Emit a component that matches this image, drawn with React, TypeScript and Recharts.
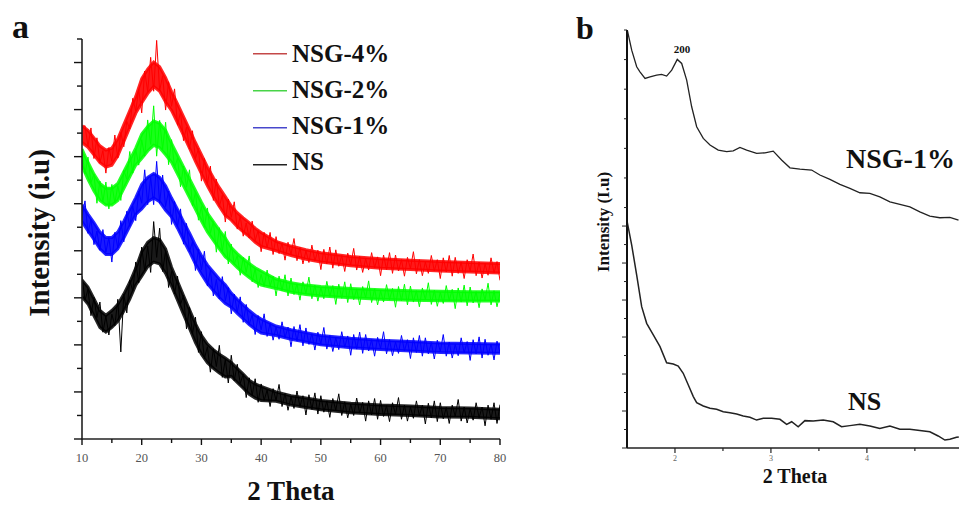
import React from "react";
import { Area, ComposedChart, Line, LineChart, XAxis, YAxis } from "recharts";

const SERIF = '"Liberation Serif", "Times New Roman", Times, serif';

// panel a: scan grid 10..80 deg, 0.5 deg step
const thetaA = Array.from({ length: 141 }, (_, i) => 10 + i * 0.5);

const nsA = [
    3.46, 2.95, 3.18, 2.62, 3.01, 2.58, 2.91, 2.27, 2.61, 2.21,
    2.65, 2.41, 2.97, 1.85, 3.08, 2.68, 3.38, 3.14, 3.76, 3.32,
    4.08, 3.57, 4.10, 3.54, 4.62, 3.86, 4.48, 3.56, 4.00, 3.22,
    3.56, 3.08, 3.46, 2.86, 3.05, 2.34, 2.80, 2.23, 2.59, 1.84,
    2.28, 1.71, 1.96, 1.42, 1.92, 1.54, 1.99, 1.31, 1.69, 1.19,
    1.78, 1.24, 1.59, 1.18, 1.38, 0.88, 1.30, 0.93, 1.28, 0.78,
    1.17, 0.82, 1.04, 0.69, 1.07, 0.82, 1.16, 0.69, 0.97, 0.61,
    0.90, 0.65, 1.02, 0.69, 0.92, 0.51, 0.94, 0.63, 0.98, 0.53,
    0.92, 0.57, 0.81, 0.46, 0.86, 0.61, 0.96, 0.50, 0.79, 0.45,
    0.74, 0.50, 0.87, 0.55, 0.78, 0.38, 0.81, 0.51, 0.86, 0.42,
    0.82, 0.48, 0.71, 0.37, 0.77, 0.52, 0.88, 0.42, 0.72, 0.38,
    0.68, 0.44, 0.81, 0.49, 0.72, 0.32, 0.76, 0.45, 0.81, 0.37,
    0.77, 0.43, 0.67, 0.33, 0.72, 0.48, 0.84, 0.38, 0.68, 0.34,
    0.64, 0.40, 0.77, 0.45, 0.68, 0.28, 0.72, 0.42, 0.77, 0.33,
    0.73,
];

const nsg1A = [
    4.70, 5.06, 4.37, 4.67, 4.13, 4.42, 4.01, 4.45, 3.97, 4.28,
    3.76, 4.39, 4.06, 4.64, 4.19, 4.84, 4.52, 4.95, 4.64, 5.26,
    5.01, 5.72, 4.98, 5.56, 4.98, 5.90, 5.01, 5.61, 4.94, 5.27,
    4.56, 5.05, 4.51, 4.89, 4.14, 4.58, 3.98, 4.19, 3.58, 4.03,
    3.59, 3.99, 3.25, 3.59, 3.04, 3.39, 2.98, 3.45, 2.94, 3.22,
    2.66, 3.08, 2.69, 3.02, 2.48, 2.86, 2.43, 2.64, 2.22, 2.62,
    2.32, 2.66, 2.18, 2.46, 2.10, 2.38, 2.12, 2.49, 2.15, 2.38,
    1.96, 2.39, 2.08, 2.43, 1.98, 2.36, 2.01, 2.24, 1.89, 2.27,
    2.02, 2.37, 1.91, 2.20, 1.86, 2.15, 1.90, 2.28, 1.95, 2.19,
    1.78, 2.22, 1.91, 2.27, 1.82, 2.22, 1.87, 2.11, 1.76, 2.16,
    1.92, 2.28, 1.81, 2.11, 1.77, 2.06, 1.82, 2.20, 1.87, 2.11,
    1.71, 2.15, 1.84, 2.20, 1.76, 2.15, 1.81, 2.05, 1.70, 2.10,
    1.86, 2.22, 1.76, 2.06, 1.72, 2.01, 1.77, 2.15, 1.83, 2.07,
    1.67, 2.11, 1.81, 2.17, 1.72, 2.12, 1.78, 2.02, 1.68, 2.08,
    1.84,
];

const nsg2A = [
    6.08, 5.63, 5.99, 5.45, 5.63, 5.01, 5.48, 5.04, 5.46, 4.89,
    5.41, 5.02, 5.38, 5.07, 5.71, 5.52, 6.11, 5.65, 6.16, 5.82,
    6.36, 6.01, 6.78, 6.26, 7.08, 6.01, 6.77, 6.16, 6.73, 5.83,
    6.36, 5.76, 5.97, 5.36, 5.80, 5.35, 5.72, 4.95, 5.25, 4.65,
    4.94, 4.50, 4.91, 4.37, 4.62, 3.97, 4.49, 3.99, 4.41, 3.72,
    4.14, 3.71, 3.90, 3.48, 3.86, 3.54, 3.89, 3.34, 3.62, 3.22,
    3.50, 3.24, 3.59, 3.25, 3.46, 3.04, 3.46, 3.15, 3.49, 3.04,
    3.42, 3.07, 3.30, 2.95, 3.34, 3.09, 3.44, 2.98, 3.27, 2.93,
    3.22, 2.98, 3.35, 3.03, 3.26, 2.86, 3.29, 2.99, 3.34, 2.90,
    3.30, 2.96, 3.19, 2.85, 3.24, 3.00, 3.36, 2.90, 3.19, 2.85,
    3.15, 2.91, 3.28, 2.96, 3.20, 2.80, 3.24, 2.94, 3.29, 2.85,
    3.25, 2.91, 3.15, 2.81, 3.21, 2.96, 3.32, 2.86, 3.16, 2.82,
    3.12, 2.88, 3.26, 2.94, 3.18, 2.77, 3.21, 2.91, 3.27, 2.83,
    3.23, 2.89, 3.13, 2.79, 3.19, 2.95, 3.31, 2.85, 3.15, 2.81,
    3.11,
];

const nsg4A = [
    6.60, 6.66, 6.22, 6.61, 5.96, 6.40, 5.87, 6.13, 5.65, 6.19,
    5.90, 6.46, 5.97, 6.51, 6.21, 6.75, 6.59, 7.24, 6.97, 7.43,
    6.93, 7.82, 7.38, 8.11, 7.39, 8.47, 7.40, 7.72, 6.99, 7.59,
    7.07, 7.44, 6.67, 6.95, 6.34, 6.63, 6.16, 6.55, 5.96, 6.17,
    5.48, 5.96, 5.41, 5.80, 5.07, 5.52, 4.94, 5.18, 4.61, 5.10,
    4.71, 5.04, 4.46, 4.73, 4.31, 4.59, 4.27, 4.63, 4.22, 4.43,
    3.98, 4.39, 4.06, 4.39, 3.92, 4.30, 3.94, 4.16, 3.80, 4.18,
    3.92, 4.26, 3.79, 4.07, 3.72, 4.00, 3.75, 4.12, 3.78, 4.01,
    3.60, 4.03, 3.72, 4.08, 3.63, 4.02, 3.67, 3.90, 3.56, 3.95,
    3.70, 4.05, 3.59, 3.88, 3.54, 3.83, 3.59, 3.96, 3.64, 3.87,
    3.47, 3.91, 3.60, 3.96, 3.52, 3.91, 3.57, 3.81, 3.46, 3.86,
    3.62, 3.98, 3.51, 3.81, 3.47, 3.76, 3.52, 3.90, 3.57, 3.81,
    3.41, 3.85, 3.55, 3.90, 3.46, 3.86, 3.52, 3.76, 3.41, 3.81,
    3.57, 3.93, 3.47, 3.76, 3.42, 3.72, 3.48, 3.85, 3.53, 3.77,
    3.37,
];

// dense core of each noisy trace (low / high edge), read on a coarser grid
const thetaBand = [
    10, 11, 12, 13, 14, 15, 16, 17, 18, 19,
    20, 21, 22, 23, 24,
    25, 26, 27, 28, 29, 30, 31, 32, 33, 34,
    35, 36, 37, 38, 39, 40,
    42.5, 45, 47.5, 50, 55, 60, 65, 70, 75, 80,
];
const nsLo = [
    3.02, 2.87, 2.62, 2.37, 2.27, 2.37, 2.50, 2.72, 2.97, 3.27,
    3.46, 3.66, 3.76, 3.72, 3.52,
    3.25, 2.95, 2.65, 2.35, 2.05, 1.80, 1.62, 1.50, 1.40, 1.32,
    1.33, 1.20, 1.08, 0.95, 0.87, 0.82,
    0.80, 0.72, 0.67, 0.62, 0.56, 0.52, 0.50, 0.47, 0.46, 0.43,
];
const nsHi = [
    3.38, 3.23, 2.98, 2.73, 2.63, 2.73, 2.86, 3.08, 3.33, 3.63,
    3.98, 4.18, 4.28, 4.24, 4.04,
    3.65, 3.35, 3.05, 2.75, 2.45, 2.20, 2.02, 1.90, 1.80, 1.72,
    1.63, 1.50, 1.38, 1.25, 1.17, 1.12,
    1.00, 0.92, 0.87, 0.82, 0.76, 0.72, 0.70, 0.67, 0.66, 0.63,
];
const nsg1Lo = [
    4.62, 4.42, 4.24, 4.04, 3.92, 3.92, 4.04, 4.27, 4.52, 4.77,
    4.89, 5.04, 5.12, 5.04, 4.86,
    4.72, 4.48, 4.22, 3.98, 3.72, 3.50, 3.30, 3.15, 3.00, 2.88,
    2.80, 2.67, 2.55, 2.43, 2.33, 2.25,
    2.20, 2.12, 2.06, 2.00, 1.94, 1.90, 1.87, 1.84, 1.83, 1.82,
];
const nsg1Hi = [
    4.98, 4.78, 4.60, 4.40, 4.28, 4.28, 4.40, 4.63, 4.88, 5.13,
    5.41, 5.56, 5.64, 5.56, 5.38,
    5.12, 4.88, 4.62, 4.38, 4.12, 3.90, 3.70, 3.55, 3.40, 3.28,
    3.10, 2.97, 2.85, 2.73, 2.63, 2.55,
    2.40, 2.32, 2.26, 2.20, 2.14, 2.10, 2.07, 2.04, 2.03, 2.02,
];
const nsg2Lo = [
    5.80, 5.52, 5.27, 5.07, 4.97, 4.97, 5.07, 5.32, 5.57, 5.82,
    5.96, 6.12, 6.24, 6.19, 6.04,
    5.88, 5.63, 5.38, 5.13, 4.88, 4.63, 4.40, 4.22, 4.04, 3.87,
    3.77, 3.64, 3.53, 3.43, 3.34, 3.27,
    3.20, 3.12, 3.07, 3.04, 3.00, 2.97, 2.95, 2.94, 2.93, 2.93,
];
const nsg2Hi = [
    6.16, 5.88, 5.63, 5.43, 5.33, 5.33, 5.43, 5.68, 5.93, 6.18,
    6.48, 6.64, 6.76, 6.71, 6.56,
    6.28, 6.03, 5.78, 5.53, 5.28, 5.03, 4.80, 4.62, 4.44, 4.27,
    4.07, 3.94, 3.83, 3.73, 3.64, 3.57,
    3.40, 3.32, 3.27, 3.24, 3.20, 3.17, 3.15, 3.14, 3.13, 3.13,
];
const nsg4Lo = [
    6.30, 6.20, 6.04, 5.87, 5.78, 5.82, 6.02, 6.32, 6.62, 6.92,
    7.14, 7.34, 7.49, 7.39, 7.16,
    6.98, 6.72, 6.45, 6.18, 5.90, 5.64, 5.38, 5.15, 4.94, 4.75,
    4.65, 4.51, 4.40, 4.30, 4.18, 4.09,
    4.00, 3.90, 3.82, 3.76, 3.68, 3.63, 3.60, 3.57, 3.55, 3.53,
];
const nsg4Hi = [
    6.66, 6.56, 6.40, 6.23, 6.14, 6.18, 6.38, 6.68, 6.98, 7.28,
    7.66, 7.86, 8.01, 7.91, 7.68,
    7.38, 7.12, 6.85, 6.58, 6.30, 6.04, 5.78, 5.55, 5.34, 5.15,
    4.95, 4.81, 4.70, 4.60, 4.48, 4.39,
    4.20, 4.10, 4.02, 3.96, 3.88, 3.83, 3.80, 3.77, 3.75, 3.73,
];

const xTicksA = [10, 15, 20, 25, 30, 35, 40, 45, 50, 55, 60, 65, 70, 75, 80];
const yTicksA = [0, 0.5, 1, 1.5, 2, 2.5, 3, 3.5, 4, 4.5, 5, 5.5, 6, 6.5, 7, 7.5, 8, 8.5];

const legendNames = ["NSG-4%", "NSG-2%", "NSG-1%", "NS"];
const legendColors = ["#c44848", "#48d448", "#4848cc", "#222222"];

// panel b: low angle scans
const thetaNsg1B = [
    1.505, 1.549, 1.601, 1.635, 1.688, 1.740, 1.809, 1.861, 1.913, 1.966,
    2.024, 2.070, 2.122, 2.174, 2.226, 2.295, 2.365, 2.451, 2.539, 2.607,
    2.677, 2.747, 2.851, 2.938, 3.024, 3.111, 3.198, 3.302, 3.424, 3.510,
    3.615, 3.719, 3.823, 3.927, 4.031, 4.135, 4.240, 4.344, 4.448, 4.552,
    4.656, 4.760, 4.865, 4.955,
];
const nsg1B = [
    22.55, 21.51, 20.61, 20.34, 19.98, 20.07, 20.16, 20.20, 20.11, 20.43,
    21.01, 20.79, 19.89, 18.45, 17.37, 16.74, 16.38, 16.11, 16.02, 16.07,
    16.25, 16.11, 15.93, 15.96, 16.05, 15.57, 15.15, 15.08, 15.03, 14.76,
    14.52, 14.25, 14.04, 13.80, 13.77, 13.58, 13.31, 13.17, 13.04, 12.77,
    12.54, 12.45, 12.47, 12.32,
];

const thetaNsB = [
    1.503, 1.549, 1.601, 1.653, 1.705, 1.774, 1.844, 1.913, 1.982, 2.034,
    2.086, 2.139, 2.191, 2.226, 2.295, 2.365, 2.434, 2.503, 2.573, 2.643,
    2.711, 2.781, 2.851, 2.920, 3.007, 3.094, 3.164, 3.216, 3.284, 3.354,
    3.441, 3.545, 3.649, 3.736, 3.823, 3.927, 4.031, 4.135, 4.240, 4.344,
    4.448, 4.552, 4.656, 4.743, 4.813, 4.865, 4.934, 4.958,
];
const nsB = [
    12.20, 10.97, 9.35, 7.64, 6.74, 6.11, 5.48, 4.61, 4.54, 4.43,
    4.04, 3.41, 2.78, 2.45, 2.27, 2.15, 2.09, 1.96, 1.91, 1.84,
    1.73, 1.66, 1.51, 1.61, 1.61, 1.55, 1.28, 1.42, 1.15, 1.48,
    1.46, 1.51, 1.42, 1.15, 1.21, 1.28, 1.19, 1.06, 1.19, 1.01,
    1.01, 0.94, 0.88, 0.65, 0.43, 0.47, 0.58, 0.60,
];

const xTicksB = [2, 2.5, 3, 3.5, 4, 4.5];
const yTicksB = [0, 1, 2, 3, 4, 5, 6, 7, 8, 9, 10, 11, 12, 13, 14.6, 16.2, 17.8, 19.4, 21, 22.6];

const dataA = thetaA.map((theta, i) => ({
    theta,
    ns: nsA[i],
    nsg1: nsg1A[i],
    nsg2: nsg2A[i],
    nsg4: nsg4A[i],
}));
const bandA = thetaBand.map((theta, i) => ({
    theta,
    ns: [nsLo[i], nsHi[i]],
    nsg1: [nsg1Lo[i], nsg1Hi[i]],
    nsg2: [nsg2Lo[i], nsg2Hi[i]],
    nsg4: [nsg4Lo[i], nsg4Hi[i]],
}));
const dataNsg1B = thetaNsg1B.map((theta, i) => ({ theta, y: nsg1B[i] }));
const dataNsB = thetaNsB.map((theta, i) => ({ theta, y: nsB[i] }));

const seriesA = [
    { key: "ns", color: "#000000" },
    { key: "nsg1", color: "#0000ff" },
    { key: "nsg2", color: "#00ff00" },
    { key: "nsg4", color: "#ff0000" },
];

const renderXTickA = ({ x, y, payload }: any) => {
    const major = payload.value % 10 === 0;
    return (
        <g>
            <line x1={x} x2={x} y1={y} y2={y + (major ? 6 : 4)} stroke="#111" strokeWidth={1.4} />
            {major && (
                <text x={x} y={y + 23} textAnchor="middle" fontFamily={SERIF} fontSize={12.5} fill="#555">
                    {payload.value}
                </text>
            )}
        </g>
    );
};

const renderYTickA = ({ x, y, payload }: any) => {
    const major = payload.value % 1 === 0;
    return <line x1={x - (major ? 8 : 5)} x2={x} y1={y} y2={y} stroke="#111" strokeWidth={1.4} />;
};

const renderXTickB = ({ x, y, payload }: any) => {
    const major = payload.value % 1 === 0;
    return (
        <g>
            <line x1={x} x2={x} y1={y} y2={y + (major ? 5 : 3)} stroke="#222" strokeWidth={1.2} />
            {major && (
                <text x={x} y={y + 13} textAnchor="middle" fontFamily={SERIF} fontSize={8} fill="#666">
                    {payload.value}
                </text>
            )}
        </g>
    );
};

const renderYTickB = ({ x, y, payload }: any) => {
    const major = payload.value <= 12 && payload.value % 2 === 0;
    return <line x1={x - (major ? 5 : 3)} x2={x} y1={y} y2={y} stroke="#222" strokeWidth={1} />;
};

export default function App() {
    return (
        <div style={{ position: "absolute", left: 0, top: 0, width: 959, height: 505, overflow: "hidden", background: "#fff" }}>
            <div style={{ position: "absolute", left: 0, top: 0 }}>
                <ComposedChart width={520} height={505} data={dataA} margin={{ top: 39, right: 20, bottom: 36, left: 42 }}>
                    <XAxis
                        dataKey="theta"
                        type="number"
                        domain={[10, 80]}
                        ticks={xTicksA}
                        interval={0}
                        tick={renderXTickA}
                        tickLine={false}
                        tickSize={0}
                        tickMargin={0}
                        axisLine={{ stroke: "#222", strokeWidth: 1.6 }}
                        height={30}
                        allowDataOverflow
                    />
                    <YAxis
                        type="number"
                        domain={[0, 8.5]}
                        ticks={yTicksA}
                        interval={0}
                        tick={renderYTickA}
                        tickLine={false}
                        tickSize={0}
                        tickMargin={0}
                        axisLine={{ stroke: "#222", strokeWidth: 1.6 }}
                        width={40}
                        allowDataOverflow
                    />
                    {seriesA.flatMap((s) => [
                        <Area
                            key={s.key + "-band"}
                            data={bandA}
                            type="linear"
                            dataKey={s.key}
                            stroke={s.color}
                            strokeWidth={3}
                            strokeOpacity={0.85}
                            fill={s.color}
                            fillOpacity={0.9}
                            isAnimationActive={false}
                        />,
                        <Line
                            key={s.key}
                            type="linear"
                            dataKey={s.key}
                            stroke={s.color}
                            strokeWidth={1}
                            dot={false}
                            isAnimationActive={false}
                        />,
                    ])}
                </ComposedChart>
            </div>

            <div style={{ position: "absolute", left: 560, top: 0 }}>
                <LineChart width={399} height={505} margin={{ top: 30, right: 0, bottom: 27, left: 27 }}>
                    <XAxis
                        dataKey="theta"
                        type="number"
                        domain={[1.5, 4.96]}
                        ticks={xTicksB}
                        interval={0}
                        tick={renderXTickB}
                        tickLine={false}
                        tickSize={0}
                        tickMargin={0}
                        axisLine={{ stroke: "#222", strokeWidth: 1.4 }}
                        height={30}
                        allowDataOverflow
                    />
                    <YAxis
                        type="number"
                        domain={[0, 22.6]}
                        ticks={yTicksB}
                        interval={0}
                        tick={renderYTickB}
                        tickLine={false}
                        tickSize={0}
                        tickMargin={0}
                        axisLine={{ stroke: "#111", strokeWidth: 2 }}
                        width={40}
                        allowDataOverflow
                    />
                    <Line data={dataNsg1B} type="linear" dataKey="y" stroke="#222" strokeWidth={1.3} dot={false} isAnimationActive={false} />
                    <Line data={dataNsB} type="linear" dataKey="y" stroke="#222" strokeWidth={1.5} dot={false} isAnimationActive={false} />
                </LineChart>
            </div>

            <svg width={959} height={505} style={{ position: "absolute", left: 0, top: 0, pointerEvents: "none" }}>
                <g fontFamily={SERIF} fontWeight="bold" fill="#111">
                    <text x={12} y={38} fontSize={34}>a</text>
                    <text x={576} y={39} fontSize={32}>b</text>

                    {legendNames.map((name, i) => (
                        <g key={name}>
                            <rect x={253} y={53 + i * 37} width={34} height={1.5} fill={legendColors[i]} />
                            <text x={292} y={62 + i * 36} fontSize={25}>{name}</text>
                        </g>
                    ))}

                    <text x={49} y={233} fontSize={29} textAnchor="middle" transform="rotate(-90 49 233)">Intensity (i.u)</text>
                    <text x={291} y={500} fontSize={27} textAnchor="middle">2 Theta</text>

                    <text x={682} y={53} fontSize={11} textAnchor="middle">200</text>
                    <text x={846} y={168} fontSize={28}>NSG-1%</text>
                    <text x={848} y={410} fontSize={26}>NS</text>
                    <text x={609} y={222} fontSize={17} textAnchor="middle" transform="rotate(-90 609 222)">Intensity (I.u)</text>
                    <text x={795} y={483} fontSize={20} textAnchor="middle">2 Theta</text>
                </g>
            </svg>
        </div>
    );
}
